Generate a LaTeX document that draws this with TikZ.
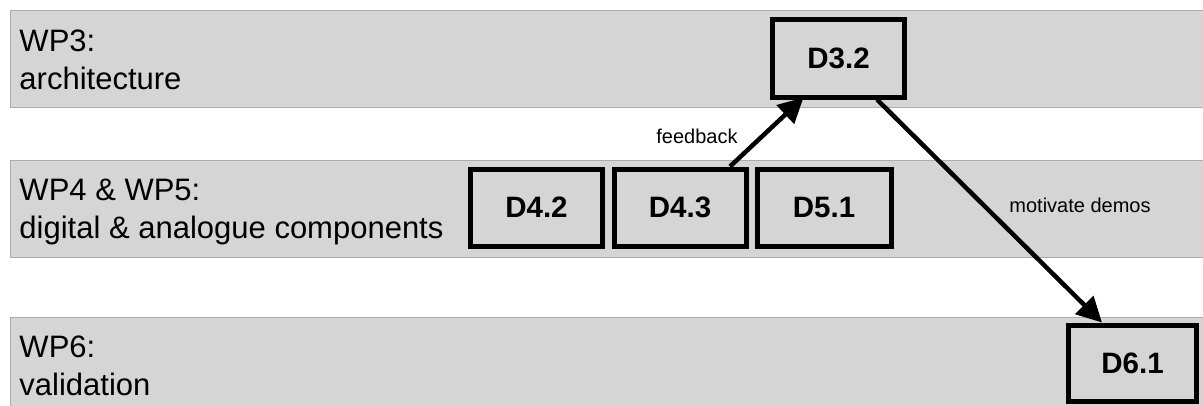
\documentclass[tikz,border=0pt]{standalone}
\usepackage{fontspec}
\setmainfont{Liberation Sans}
\usetikzlibrary{arrows.meta,calc}
\definecolor{bandfill}{RGB}{213,213,213}
\definecolor{bandline}{RGB}{172,172,172}
\begin{document}
\begin{tikzpicture}[x=1pt,y=-1pt,
  band/.style={draw=bandline,fill=bandfill,line width=1pt},
  wplabel/.style={anchor=north west,inner sep=0pt,outer sep=0pt,align=left,font=\fontsize{31}{38}\selectfont},
  deliv/.style={draw=black,fill=bandfill,line width=5pt,minimum width=132pt,minimum height=77pt,inner sep=0pt,font=\fontsize{29.5}{34}\selectfont\bfseries},
  flow/.style={line width=4.5pt,-{Triangle[length=25pt,width=25pt]}},
  note/.style={inner sep=0pt,font=\fontsize{20}{24}\selectfont}]
\useasboundingbox (0,0) rectangle (1203,405);
% bands
\draw[band] (10.5,10.5) rectangle (1215,107);
\draw[band] (10.5,160.5) rectangle (1215,257);
\draw[band] (10.5,317.5) rectangle (1215,420);
% band labels
\node[wplabel] (wp3) at (19.5,30) {WP3:\\architecture};
\node[wplabel] (wp45) at (19.5,179) {WP4 \& WP5:\\digital \& analogue components};
\node[wplabel] (wp6) at (19.5,336) {WP6:\\validation};
% deliverables
\node[deliv,minimum height=78pt] (D32) at (838.5,58) {D3.2};
\node[deliv] (D42) at (536.5,207.5) {D4.2};
\node[deliv] (D43) at (680,207.5) {D4.3};
\node[deliv,minimum width=134pt] (D51) at (824,207.5) {D5.1};
\node[deliv,minimum width=128pt,minimum height=76pt] (D61) at (1132.5,363) {D6.1};
% connectors
\coordinate (fbS) at ([xshift=50pt]D43.north);
\coordinate (fbE) at ([xshift=-35pt,yshift=2pt]D32.south);
\draw[flow] (fbS) -- (fbE);
\coordinate (mdS) at ([xshift=38.5pt]D32.south);
\coordinate (mdE) at ([xshift=-30.5pt]D61.north);
\draw[flow] (mdS) -- (mdE);
\node[note] (fb) at (697,136) {feedback};
\node[note] (md) at (1080,205) {motivate demos};
\end{tikzpicture}
\end{document}
